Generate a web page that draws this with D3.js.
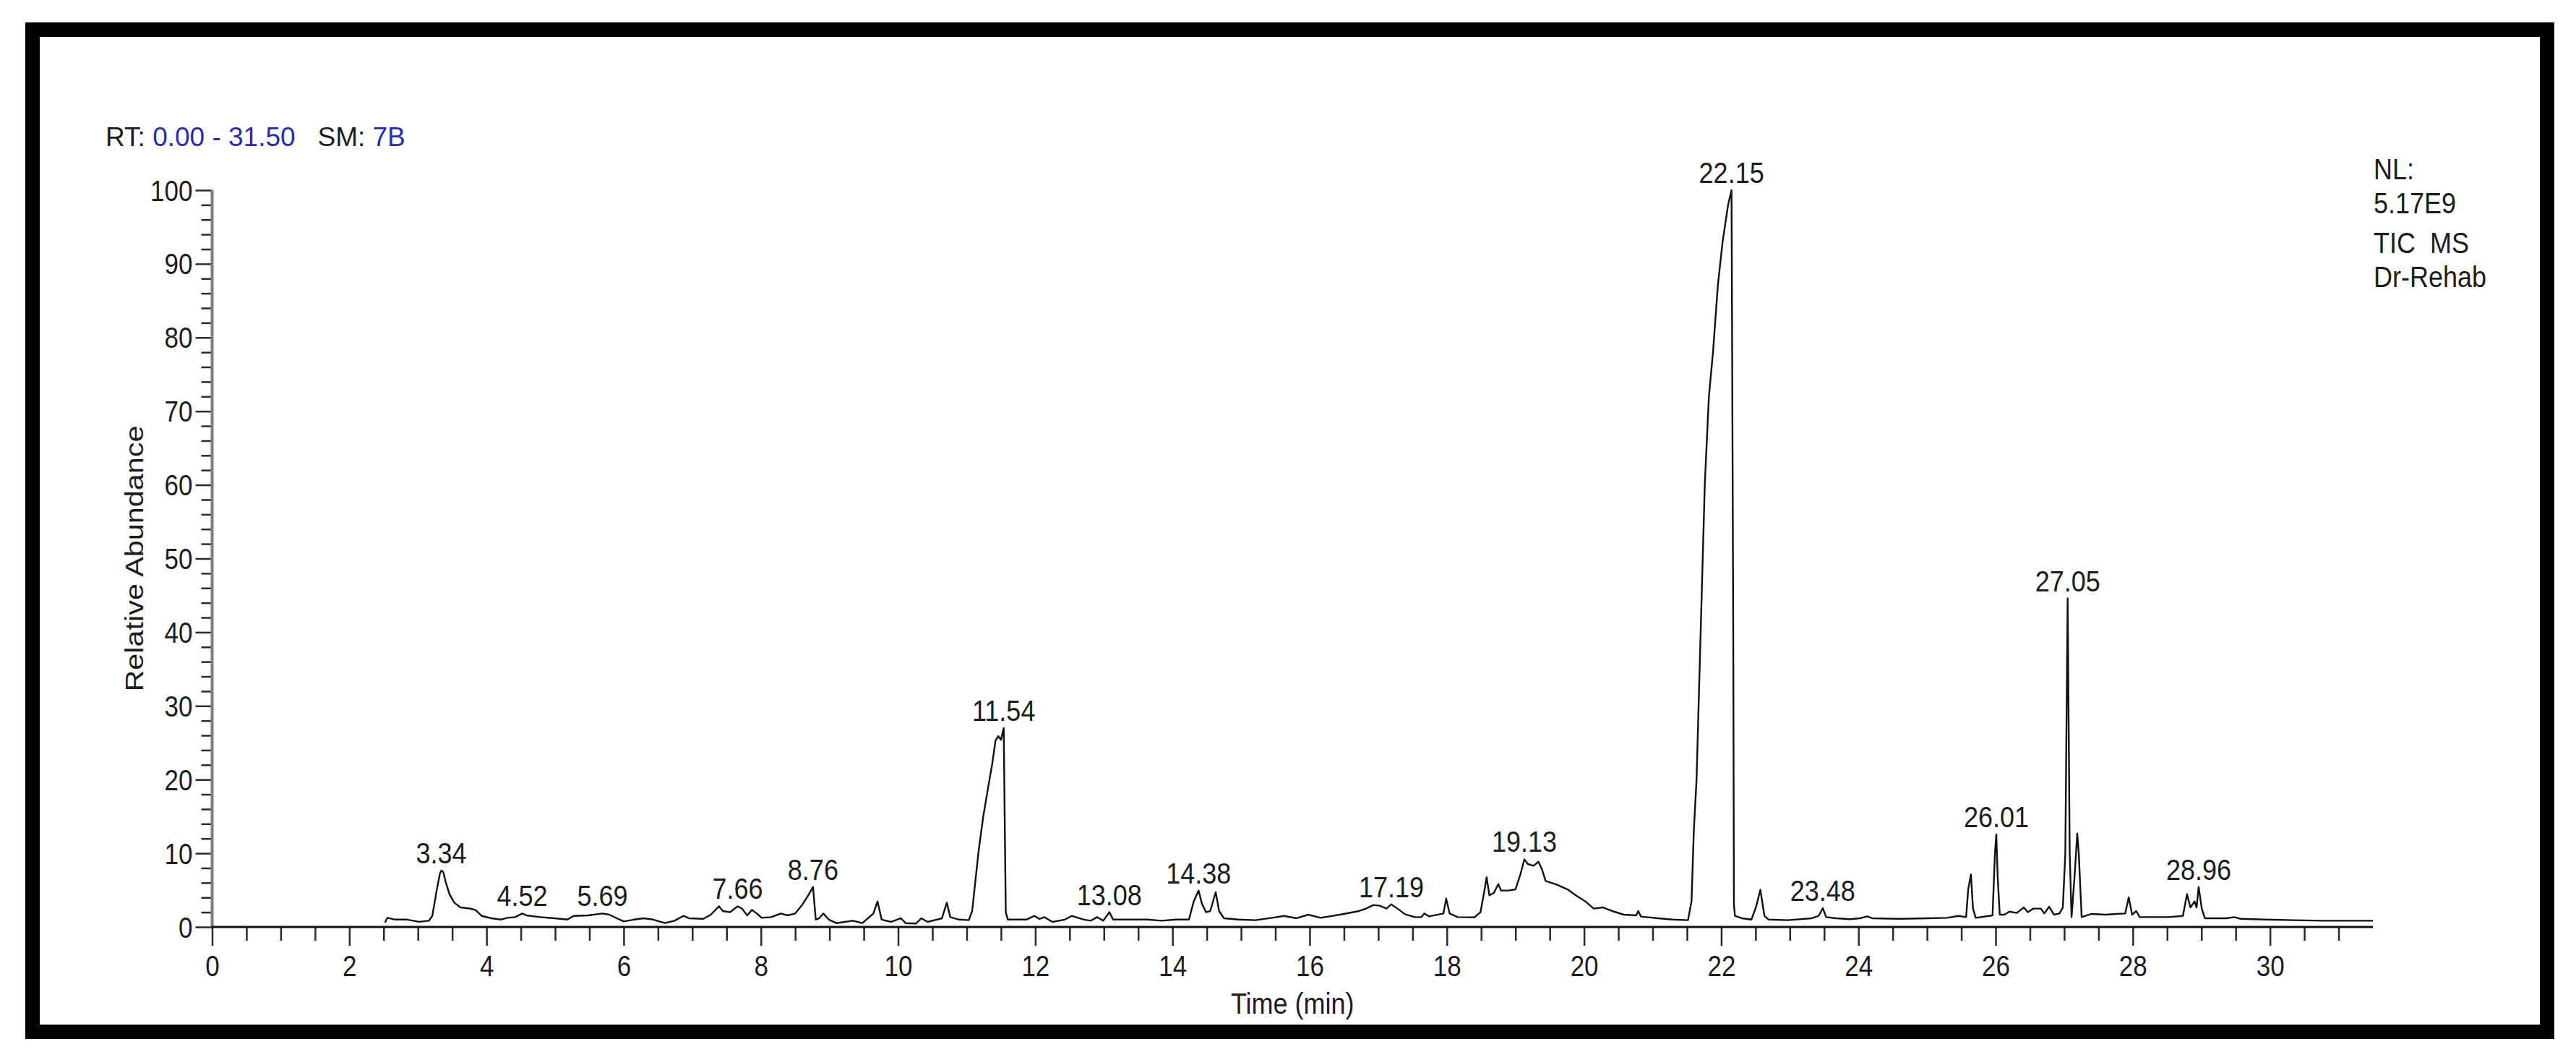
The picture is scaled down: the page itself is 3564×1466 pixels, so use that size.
<!DOCTYPE html>
<html>
<head>
<meta charset="utf-8">
<script src="https://cdn.jsdelivr.net/npm/d3@7/dist/d3.min.js"></script>
<style>
    body { margin: 0; background: #fff; }
    text { font-family: "Liberation Sans", Arial, Helvetica, sans-serif; fill: #1c1c1c; white-space: pre; }
</style>
</head>
<body>
<div id="chart"></div>
<script>
// TIC trace: retention time (min) / relative abundance (%)
var traceTime = [
    2.52, 2.555, 2.67, 2.84, 3.02, 3.16, 3.21, 3.27, 3.32, 3.34, 3.37, 3.405, 3.46, 3.53, 3.62, 3.76, 3.84, 3.93,
    4.07, 4.21, 4.30, 4.42, 4.52, 4.58, 4.78, 4.99, 5.18, 5.27, 5.48, 5.69, 5.79, 5.90, 6.00, 6.15, 6.29, 6.43,
    6.60, 6.74, 6.87, 6.95, 7.16, 7.27, 7.39, 7.445, 7.55, 7.66, 7.725, 7.80, 7.87, 7.94, 8.01, 8.15, 8.29, 8.39,
    8.50, 8.60, 8.69, 8.76, 8.80, 8.85, 8.91, 8.99, 9.10, 9.34, 9.48, 9.64, 9.70, 9.76, 9.90, 10.04, 10.11, 10.26,
    10.34, 10.43, 10.64, 10.71, 10.76, 10.89, 11.03, 11.08, 11.17, 11.24, 11.31, 11.37, 11.42, 11.46, 11.50, 11.54,
    11.555, 11.57, 11.60, 11.87, 11.99, 12.06, 12.13, 12.25, 12.43, 12.53, 12.71, 12.81, 12.90, 12.99, 13.08, 13.135,
    13.35, 13.63, 13.84, 14.05, 14.24, 14.31, 14.38, 14.43, 14.49, 14.55, 14.63, 14.68, 14.75, 14.96, 15.21, 15.45,
    15.63, 15.81, 15.98, 16.16, 16.44, 16.72, 16.82, 16.93, 17.02, 17.12, 17.19, 17.28, 17.39, 17.53, 17.63, 17.67,
    17.74, 17.95, 17.99, 18.04, 18.16, 18.40, 18.49, 18.545, 18.58, 18.62, 18.685, 18.75, 18.79, 18.90, 19.00, 19.07,
    19.13, 19.18, 19.265, 19.335, 19.39, 19.44, 19.60, 19.76, 19.88, 20.02, 20.14, 20.27, 20.41, 20.58, 20.76, 20.79,
    20.83, 21.08, 21.29, 21.515, 21.567, 21.60, 21.64, 21.70, 21.76, 21.82, 21.88, 21.95, 22.02, 22.10, 22.15, 22.175,
    22.185, 22.20, 22.30, 22.44, 22.51, 22.57, 22.63, 22.69, 22.97, 23.32, 23.42, 23.48, 23.53, 23.67, 23.88, 24.02,
    24.13, 24.20, 24.59, 25.01, 25.29, 25.46, 25.57, 25.60, 25.64, 25.67, 25.71, 25.955, 25.99, 26.01, 26.03, 26.06,
    26.13, 26.20, 26.31, 26.41, 26.47, 26.55, 26.66, 26.71, 26.78, 26.85, 26.93, 26.98, 27.016, 27.05, 27.08, 27.107,
    27.15, 27.19, 27.212, 27.254, 27.40, 27.61, 27.75, 27.89, 27.94, 27.99, 28.05, 28.10, 28.31, 28.52, 28.73, 28.79,
    28.84, 28.90, 28.93, 28.96, 29.005, 29.05, 29.36, 29.485, 29.57, 29.92, 30.35, 30.77, 31.50
];
var traceAbund = [
    0.6, 1.24, 1.0, 1.0, 0.7, 0.85, 1.5, 4.8, 7.2, 7.65, 7.46, 6.1, 4.45, 3.3, 2.65, 2.5, 2.3, 1.5,
    1.18, 1.0, 1.24, 1.34, 1.83, 1.57, 1.34, 1.18, 1.0, 1.5, 1.57, 1.83, 1.67, 1.18, 0.75, 1.0, 1.18, 1.0,
    0.52, 0.85, 1.5, 1.18, 1.1, 1.67, 2.8, 2.16, 2.0, 2.8, 2.49, 1.57, 2.32, 1.83, 1.24, 1.34, 1.83, 1.57,
    1.83, 2.98, 4.28, 5.43, 1.0, 1.18, 1.83, 1.0, 0.52, 0.85, 0.52, 1.83, 3.47, 1.0, 0.69, 1.18, 0.52, 0.46,
    1.18, 0.69, 1.18, 3.3, 1.34, 1.0, 0.92, 2.16, 10.0, 14.9, 18.8, 22.0, 25.3, 25.9, 25.4, 27.0,
    14.0, 2.0, 1.0, 1.0, 1.5, 1.08, 1.34, 0.69, 1.0, 1.5, 1.0, 0.85, 1.34, 0.85, 2.0, 1.0,
    1.0, 1.0, 0.85, 1.0, 1.0, 3.47, 4.94, 3.14, 2.0, 2.16, 4.71, 2.16, 1.18, 1.0, 0.92, 1.24,
    1.5, 1.18, 1.67, 1.24, 1.67, 2.16, 2.49, 2.98, 2.88, 2.49, 3.07, 2.49, 1.73, 1.34, 1.34, 1.83,
    1.44, 1.83, 3.86, 1.83, 1.34, 1.3, 2.0, 4.78, 6.74, 4.29, 4.61, 5.82, 4.94, 4.94, 5.1, 7.07,
    9.19, 8.54, 8.31, 8.86, 7.72, 6.25, 5.76, 5.1, 4.29, 3.47, 2.49, 2.65, 2.16, 1.67, 1.57, 2.16,
    1.41, 1.18, 1.0, 0.92, 3.5, 13, 20, 40, 60, 72, 78, 87, 93, 98, 100, 40,
    3.0, 1.5, 1.18, 1.0, 2.8, 5.04, 1.5, 1.0, 0.92, 1.18, 1.5, 2.55, 1.34, 1.18, 1.05, 1.18,
    1.44, 1.18, 1.1, 1.18, 1.24, 1.5, 1.34, 5.1, 7.13, 2.49, 1.24, 1.57, 10.0, 12.56, 6.74, 1.67,
    1.67, 2.09, 1.9, 2.65, 2.0, 2.49, 2.49, 1.83, 2.75, 1.67, 1.83, 2.65, 10, 44.6, 10, 1.34,
    6.74, 12.7, 10.0, 1.34, 1.77, 1.67, 1.77, 1.83, 4.02, 1.67, 2.16, 1.34, 1.34, 1.34, 1.5, 4.45,
    2.65, 3.47, 2.65, 5.43, 2.49, 1.18, 1.18, 1.34, 1.1, 1.0, 0.92, 0.85, 0.85
];

// labelled peaks (apex time, apex abundance)
var peakTime = [3.34, 4.52, 5.69, 7.66, 8.76, 11.54, 13.08, 14.38, 17.19, 19.13, 22.15, 23.48, 26.01, 27.05, 28.96];
var peakAbund = [7.65, 1.83, 1.83, 2.8, 5.43, 27.0, 2.0, 4.94, 3.07, 9.19, 100, 2.55, 12.56, 44.6, 5.43];

var xTickLabels = [0, 2, 4, 6, 8, 10, 12, 14, 16, 18, 20, 22, 24, 26, 28, 30];
var yTickLabels = [0, 10, 20, 30, 40, 50, 60, 70, 80, 90, 100];

var headerText = ["RT: ", "0.00 - 31.50", "   SM: ", "7B"];
var infoText = ["NL:", "5.17E9", "TIC  MS", "Dr-Rehab"];

var width = 3564,
    height = 1466,
    plot = {left: 293.5, right: 3283, top: 263, bottom: 1282},
    stretch = 1.15;   // the source picture is a bit taller than wide

var svg = d3.select("#chart")
    .append("svg")
    .attr("width", width)
    .attr("height", height);

svg.append("rect")
    .attr("width", width)
    .attr("height", height)
    .attr("fill", "#fff");

// black frame
svg.append("rect")
    .attr("x", 45)
    .attr("y", 41)
    .attr("width", 3479)
    .attr("height", 1386)
    .attr("fill", "none")
    .attr("stroke", "#000")
    .attr("stroke-width", 20);

var x = d3.scaleLinear().domain([0, 31.5]).range([plot.left, plot.right]);
var y = d3.scaleLinear().domain([0, 100]).range([plot.bottom, plot.top]);

// x axis: minor ticks every 0.5 min, long ticks with labels every 2 min
var xMinor = d3.range(0, 31.5, 0.5).filter(function(v) { return v % 2 !== 0; });
svg.append("g")
    .attr("transform", "translate(0," + plot.bottom + ")")
    .call(d3.axisBottom(x).tickValues(xMinor).tickSize(19).tickSizeOuter(0).tickFormat(""))
    .call(function(g) { g.select(".domain").remove(); });

var xAxis = svg.append("g")
    .attr("transform", "translate(0," + plot.bottom + ")")
    .call(d3.axisBottom(x).tickValues(xTickLabels).tickSize(26).tickSizeOuter(0).tickFormat(d3.format("d")));
xAxis.select(".domain").remove();
xAxis.selectAll("text")
    .attr("y", 0)
    .attr("dy", 0)
    .attr("transform", "translate(0,68) scale(1," + stretch + ")")
    .attr("font-size", 35);

// y axis: minor ticks every 2 %, labelled ticks every 10 %
var yMinor = d3.range(0, 101, 2).filter(function(v) { return v % 10 !== 0; });
svg.append("g")
    .attr("transform", "translate(" + plot.left + ",0)")
    .call(d3.axisLeft(y).tickValues(yMinor).tickSize(15).tickSizeOuter(0).tickFormat(""))
    .call(function(g) { g.select(".domain").remove(); });

var yAxis = svg.append("g")
    .attr("transform", "translate(" + plot.left + ",0)")
    .call(d3.axisLeft(y).tickValues(yTickLabels).tickSize(23).tickSizeOuter(0).tickFormat(d3.format("d")));
yAxis.select(".domain").remove();
yAxis.selectAll("text")
    .attr("x", 0)
    .attr("dy", 0)
    .attr("transform", "translate(-27,14) scale(1," + stretch + ")")
    .attr("font-size", 35);

svg.selectAll(".tick line")
    .attr("stroke", "#2a2a2a")
    .attr("stroke-width", 2.5);
svg.selectAll(".tick text").attr("fill", "#1c1c1c");

// axis lines
svg.append("line")
    .attr("x1", plot.left).attr("x2", plot.left)
    .attr("y1", y(100)).attr("y2", y(0))
    .attr("stroke", "#7d7d7d")
    .attr("stroke-width", 4);
svg.append("line")
    .attr("x1", plot.left - 1).attr("x2", x(31.5))
    .attr("y1", y(0)).attr("y2", y(0))
    .attr("stroke", "#111")
    .attr("stroke-width", 3);

// the chromatogram
var line = d3.line()
    .x(function(d) { return x(d[0]); })
    .y(function(d) { return y(d[1]); });

svg.append("path")
    .datum(d3.zip(traceTime, traceAbund))
    .attr("d", line)
    .attr("fill", "none")
    .attr("stroke", "#111")
    .attr("stroke-width", 2.4)
    .attr("stroke-linejoin", "round");

// peak labels
svg.selectAll(".peak")
    .data(d3.zip(peakTime, peakAbund))
    .enter().append("text")
    .attr("class", "peak")
    .attr("text-anchor", "middle")
    .attr("font-size", 36)
    .attr("transform", function(d) {
        return "translate(" + x(d[0]) + "," + (y(d[1]) - 10) + ") scale(1," + stretch + ")";
    })
    .text(function(d) { return d[0].toFixed(2); });

// axis titles
svg.append("text")
    .attr("text-anchor", "middle")
    .attr("font-size", 36)
    .attr("transform", "translate(" + (plot.left + plot.right) / 2 + ",1402) scale(1," + stretch + ")")
    .text("Time (min)");

svg.append("text")
    .attr("text-anchor", "middle")
    .attr("font-size", 36)
    .attr("transform", "translate(198," + (plot.top + plot.bottom) / 2 + ") rotate(-90) scale(" + stretch + ",1)")
    .text("Relative Abundance");

// header: black labels, blue values
var header = svg.append("text")
    .attr("x", 146)
    .attr("y", 202)
    .attr("font-size", 37);
header.selectAll("tspan")
    .data(headerText)
    .enter().append("tspan")
    .attr("fill", function(d, i) { return i % 2 ? "#2b2bb2" : "#1c1c1c"; })
    .text(function(d) { return d; });

// normalisation block on the right
var infoY = [248, 295, 350, 397];
svg.selectAll(".info")
    .data(infoText)
    .enter().append("text")
    .attr("class", "info")
    .attr("font-size", 36)
    .attr("transform", function(d, i) {
        return "translate(3284," + infoY[i] + ") scale(1," + stretch + ")";
    })
    .text(function(d) { return d; });
</script>
</body>
</html>
